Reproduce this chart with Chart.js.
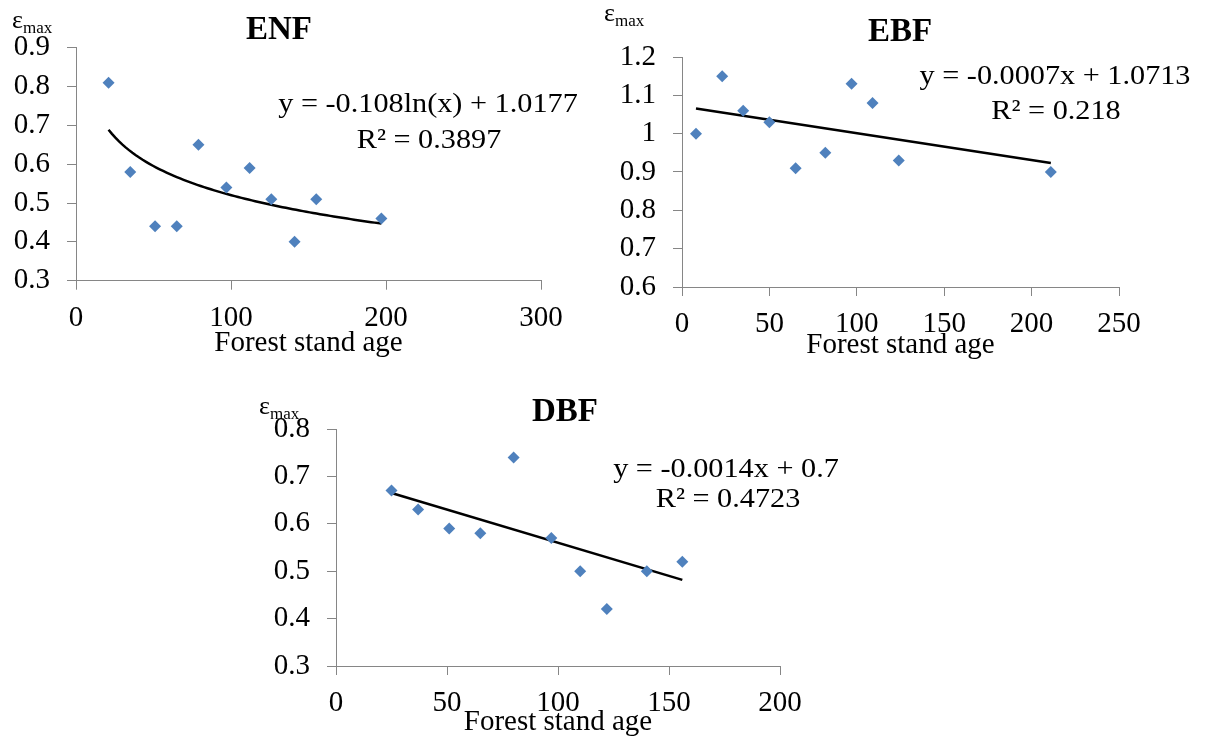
<!DOCTYPE html>
<html>
<head>
<meta charset="utf-8">
<script src="https://cdn.jsdelivr.net/npm/chart.js@4.4.1/dist/chart.umd.min.js"></script>
<style>
  html, body { margin: 0; padding: 0; background: #ffffff; overflow: hidden; }
  body { width: 1206px; height: 737px; position: relative; font-family: 'Liberation Serif', 'Times New Roman', serif; color: #000; }
  canvas { position: absolute; }
  .txt { position: absolute; white-space: nowrap; line-height: 1; transform: translate(-50%, -50%); }
  .ttl { font-weight: bold; font-size: 33px; }
  .eq { font-size: 28px; transform: translate(-50%, -50%) scaleX(1.08); }
  .eps { position: absolute; white-space: nowrap; line-height: 1; }
  .eps .e { font-size: 26px; }
  .eps .s { font-size: 17px; position: relative; top: 5px; }
</style>
</head>
<body>
<canvas id="cENF"></canvas>
<canvas id="cEBF"></canvas>
<canvas id="cDBF"></canvas>

<div class="eps" style="left:12px; top:7px;"><span class="e">ε</span><span class="s">max</span></div>
<div class="eps" style="left:604px; top:0px;"><span class="e">ε</span><span class="s">max</span></div>
<div class="eps" style="left:259px; top:393px;"><span class="e">ε</span><span class="s">max</span></div>

<div class="txt ttl" style="left:279px; top:28px;">ENF</div>
<div class="txt ttl" style="left:900px; top:30px;">EBF</div>
<div class="txt ttl" style="left:565px; top:410px;">DBF</div>

<div class="txt eq" style="left:428px; top:103px;">y = -0.108ln(x) + 1.0177</div>
<div class="txt eq" style="left:429px; top:139px;">R² = 0.3897</div>
<div class="txt eq" style="left:1055px; top:75px;">y = -0.0007x + 1.0713</div>
<div class="txt eq" style="left:1056px; top:110px;">R² = 0.218</div>
<div class="txt eq" style="left:726px; top:468px;">y = -0.0014x + 0.7</div>
<div class="txt eq" style="left:728px; top:498px;">R² = 0.4723</div>

<script>
// ---------- data ----------
const enfAge = [21, 35, 51, 65, 79, 97, 112, 126, 141, 155, 197];
const enfEps = [0.81, 0.58, 0.44, 0.44, 0.65, 0.54, 0.59, 0.51, 0.40, 0.51, 0.46];
const enfFit = [-0.108, 1.0177];      // y = a ln(x) + b
const enfFitRange = [21, 197];
const enfXTicks = [0, 100, 200, 300];
const enfYTicks = [0.3, 0.4, 0.5, 0.6, 0.7, 0.8, 0.9];

const ebfAge = [8, 23, 35, 50, 65, 82, 97, 109, 124, 211];
const ebfEps = [1.00, 1.15, 1.06, 1.03, 0.91, 0.95, 1.13, 1.08, 0.93, 0.90];
const ebfFit = [-0.0007, 1.0713];     // y = a x + b
const ebfFitRange = [8, 211];
const ebfXTicks = [0, 50, 100, 150, 200, 250];
const ebfYTicks = [0.6, 0.7, 0.8, 0.9, 1.0, 1.1, 1.2];

const dbfAge = [25, 37, 51, 65, 80, 97, 110, 122, 140, 156];
const dbfEps = [0.67, 0.63, 0.59, 0.58, 0.74, 0.57, 0.50, 0.42, 0.50, 0.52];
const dbfFit = [-0.0014, 0.7];        // y = a x + b
const dbfFitRange = [25, 156];
const dbfXTicks = [0, 50, 100, 150, 200];
const dbfYTicks = [0.3, 0.4, 0.5, 0.6, 0.7, 0.8];

// ---------- helpers ----------
const FONT = "'Liberation Serif', 'Times New Roman', serif";
const AXIS_GRAY = '#868686';
const POINT_BLUE = '#4F81BD';

function logCurve(fit, range, n) {
  const pts = [];
  for (let i = 0; i <= n; i++) {
    const x = range[0] + (range[1] - range[0]) * i / n;
    pts.push({x: x, y: fit[0] * Math.log(x) + fit[1]});
  }
  return pts;
}
function linCurve(fit, range) {
  return range.map(x => ({x: x, y: fit[0] * x + fit[1]}));
}
function fmt(v) { return String(Math.round(v * 10) / 10); }

function makeChart(id, box, xs, ys, fitPts, xTicks, yTicks) {
  const cv = document.getElementById(id);
  cv.width = box.w; cv.height = box.h;
  cv.style.left = box.left + 'px'; cv.style.top = box.top + 'px';
  cv.style.width = box.w + 'px'; cv.style.height = box.h + 'px';
  const pts = xs.map((x, i) => ({x: x, y: ys[i]}));
  const tickFont = {family: FONT, size: 29};
  const gridCommon = {display: true, drawOnChartArea: false, drawTicks: true, tickLength: 9, color: AXIS_GRAY, lineWidth: 1};
  const borderCommon = {display: true, color: AXIS_GRAY, width: 1};
  new Chart(cv, {
    type: 'scatter',
    data: {
      datasets: [
        {data: pts, pointStyle: 'rectRot', pointRadius: 6, pointHoverRadius: 6,
         backgroundColor: POINT_BLUE, borderColor: POINT_BLUE, borderWidth: 0, order: 0},
        {data: fitPts, showLine: true, pointRadius: 0, borderColor: '#000000',
         borderWidth: 2.5, fill: false, tension: 0, order: 1}
      ]
    },
    options: {
      responsive: false,
      animation: false,
      devicePixelRatio: 1,
      layout: {padding: {top: box.padTop, right: box.padRight, left: 0, bottom: 0}},
      plugins: {legend: {display: false}, tooltip: {enabled: false}, title: {display: false}},
      scales: {
        x: {
          type: 'linear', min: xTicks[0], max: xTicks[xTicks.length - 1],
          afterBuildTicks: s => { s.ticks = xTicks.map(v => ({value: v})); },
          afterFit: s => { s.height = box.xH; },
          grid: gridCommon, border: borderCommon,
          ticks: {font: tickFont, color: '#000', padding: 11, maxRotation: 0, autoSkip: false},
          title: {display: true, text: 'Forest stand age', font: {family: FONT, size: 29},
                  color: '#000', padding: {top: 0, bottom: box.titlePad}}
        },
        y: {
          type: 'linear', min: yTicks[0], max: yTicks[yTicks.length - 1],
          afterBuildTicks: s => { s.ticks = yTicks.map(v => ({value: v})); },
          afterFit: s => { s.width = box.yW; },
          grid: gridCommon, border: borderCommon,
          ticks: {font: tickFont, color: '#000', padding: 17, callback: v => fmt(v), autoSkip: false}
        }
      }
    }
  });
}

// ENF plot area: x 76..541, y 47.7..280.7
makeChart('cENF', {left: 0, top: 0, w: 600, h: 370, padTop: 47.7, padRight: 59, yW: 76, xH: 370 - 280.7, titlePad: 370 - 343 - 17.4},
  enfAge, enfEps, logCurve(enfFit, enfFitRange, 80), enfXTicks, enfYTicks);

// EBF plot area: x 682..1119, y 57..287
makeChart('cEBF', {left: 600, top: 0, w: 606, h: 375, padTop: 57, padRight: 606 - 519, yW: 82, xH: 375 - 287, titlePad: 375 - 345 - 17.4},
  ebfAge, ebfEps, linCurve(ebfFit, ebfFitRange), ebfXTicks, ebfYTicks);

// DBF plot area: x 336..780, y 429..666
makeChart('cDBF', {left: 250, top: 370, w: 600, h: 380, padTop: 59, padRight: 70, yW: 86, xH: 380 - 296, titlePad: 380 - 352 - 17.4},
  dbfAge, dbfEps, linCurve(dbfFit, dbfFitRange), dbfXTicks, dbfYTicks);
</script>
</body>
</html>
